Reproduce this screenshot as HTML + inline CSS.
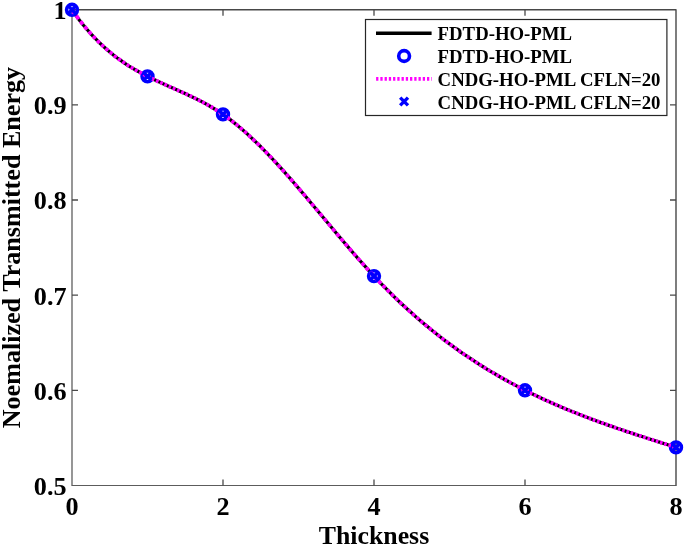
<!DOCTYPE html>
<html><head><meta charset="utf-8"><title>Normalized Transmitted Energy vs Thickness</title>
<style>
html,body{margin:0;padding:0;background:#fff;}
svg{display:block;font-family:"Liberation Serif",serif;font-weight:bold;fill:#000;}
</style></head><body>
<svg width="685" height="546" viewBox="0 0 685 546">
<rect width="685" height="546" fill="#fff"/>
<g font-size="26.2px"><text x="72.0" y="515" text-anchor="middle">0</text><text x="223.0" y="515" text-anchor="middle">2</text><text x="374.0" y="515" text-anchor="middle">4</text><text x="525.0" y="515" text-anchor="middle">6</text><text x="676.0" y="515" text-anchor="middle">8</text><text x="66.6" y="19.0" text-anchor="end">1</text><text x="66.6" y="114.2" text-anchor="end">0.9</text><text x="66.6" y="209.3" text-anchor="end">0.8</text><text x="66.6" y="304.5" text-anchor="end">0.7</text><text x="66.6" y="399.6" text-anchor="end">0.6</text><text x="66.6" y="495.0" text-anchor="end">0.5</text></g>
<text x="374" y="543.8" text-anchor="middle" font-size="25.8px">Thickness</text>
<text transform="translate(20.4,247.6) rotate(-90)" text-anchor="middle" font-size="26.1px">Noemalized Transmitted Energy</text>
<path d="M72.0 485.4V9.8" fill="none" stroke="#4a4a4a" stroke-width="1.15"/>
<path d="M71.5 485.4H676.6" fill="none" stroke="#5c5c5c" stroke-width="1.05"/>
<path d="M71.5 9.8H676.0V485.4" fill="none" stroke="#484848" stroke-width="1.4" stroke-linejoin="round"/>
<g stroke="#4a4a4a" stroke-width="1.3" fill="none"><path d="M223.0 485.4v-6M223.0 9.8v6"/><path d="M374.0 485.4v-6M374.0 9.8v6"/><path d="M525.0 485.4v-6M525.0 9.8v6"/><path d="M72.0 390.3h6M676.0 390.3h-6"/><path d="M72.0 295.2h6M676.0 295.2h-6"/><path d="M72.0 200.0h6M676.0 200.0h-6"/><path d="M72.0 104.9h6M676.0 104.9h-6"/></g>
<polyline points="72.0,9.8 75.8,15.1 79.5,20.2 83.3,25.0 87.1,29.5 90.9,33.8 94.7,37.9 98.4,41.7 102.2,45.3 106.0,48.8 109.8,52.0 113.5,55.1 117.3,58.0 121.1,60.7 124.9,63.3 128.6,65.8 132.4,68.1 136.2,70.3 139.9,72.4 143.7,74.4 147.5,76.4 151.3,78.3 155.1,80.1 158.8,81.8 162.6,83.5 166.4,85.2 170.2,86.9 173.9,88.6 177.7,90.2 181.5,91.9 185.2,93.6 189.0,95.4 192.8,97.2 196.6,99.0 200.4,100.9 204.1,102.9 207.9,105.0 211.7,107.2 215.5,109.5 219.2,111.9 223.0,114.4 226.8,117.1 230.6,119.9 234.3,122.9 238.1,126.0 241.9,129.2 245.7,132.5 249.4,135.9 253.2,139.5 257.0,143.1 260.8,146.8 264.5,150.7 268.3,154.6 272.1,158.5 275.9,162.6 279.6,166.7 283.4,170.9 287.2,175.1 291.0,179.4 294.7,183.8 298.5,188.2 302.3,192.6 306.1,197.0 309.8,201.5 313.6,206.0 317.4,210.5 321.2,215.0 324.9,219.5 328.7,224.0 332.5,228.5 336.2,233.0 340.0,237.5 343.8,242.0 347.6,246.4 351.4,250.8 355.1,255.1 358.9,259.5 362.7,263.7 366.5,267.9 370.2,272.1 374.0,276.1 377.8,280.1 381.6,284.1 385.3,287.9 389.1,291.7 392.9,295.5 396.6,299.1 400.4,302.7 404.2,306.3 408.0,309.7 411.8,313.1 415.5,316.5 419.3,319.8 423.1,323.0 426.9,326.1 430.6,329.3 434.4,332.3 438.2,335.3 442.0,338.2 445.7,341.1 449.5,343.9 453.3,346.7 457.1,349.4 460.8,352.1 464.6,354.7 468.4,357.2 472.2,359.7 475.9,362.2 479.7,364.6 483.5,367.0 487.2,369.3 491.0,371.6 494.8,373.8 498.6,376.0 502.4,378.2 506.1,380.3 509.9,382.4 513.7,384.4 517.5,386.4 521.2,388.4 525.0,390.3 528.8,392.2 532.6,394.0 536.3,395.8 540.1,397.6 543.9,399.4 547.7,401.1 551.4,402.8 555.2,404.4 559.0,406.1 562.8,407.7 566.5,409.2 570.3,410.8 574.1,412.3 577.9,413.8 581.6,415.3 585.4,416.8 589.2,418.2 593.0,419.6 596.7,421.0 600.5,422.4 604.3,423.7 608.1,425.1 611.8,426.4 615.6,427.7 619.4,429.0 623.2,430.3 626.9,431.6 630.7,432.8 634.5,434.1 638.2,435.3 642.0,436.5 645.8,437.8 649.6,439.0 653.4,440.2 657.1,441.4 660.9,442.6 664.7,443.8 668.5,445.0 672.2,446.2 676.0,447.4" fill="none" stroke="#000" stroke-width="3.3" stroke-linejoin="round"/>
<g fill="none" stroke="#0000ff" stroke-width="3.6"><circle cx="72.0" cy="9.8" r="5.4"/><circle cx="147.5" cy="76.4" r="5.4"/><circle cx="223.0" cy="114.4" r="5.4"/><circle cx="374.0" cy="276.1" r="5.4"/><circle cx="525.0" cy="390.3" r="5.4"/><circle cx="676.0" cy="447.4" r="5.4"/></g>
<path d="M72.0 9.8L74.5 13.4M76.2 15.7L78.7 19.1M80.4 21.3L82.9 24.4M84.6 26.5L87.1 29.5M88.8 31.5L91.3 34.3M93.0 36.1L95.5 38.7M97.2 40.5L99.7 43.0M101.4 44.6L103.9 46.9M105.6 48.4L108.1 50.6M109.8 52.1L112.3 54.1M114.0 55.4L116.5 57.4M118.2 58.6L120.7 60.4M122.4 61.6L124.9 63.3M126.6 64.5L129.1 66.1M130.8 67.1L133.3 68.6M135.0 69.6L137.5 71.1M139.2 72.0L141.7 73.4M143.4 74.3L145.9 75.6M147.6 76.4L150.1 77.7M151.8 78.5L154.3 79.7M156.0 80.5L158.5 81.7M160.2 82.4L162.7 83.6M164.4 84.3L166.9 85.5M168.6 86.2L171.1 87.3M172.8 88.1L175.3 89.2M177.0 89.9L179.5 91.0M181.2 91.8L183.7 92.9M185.4 93.7L187.9 94.8M189.6 95.6L192.1 96.8M193.8 97.6L196.3 98.9M198.0 99.7L200.5 101.0M202.2 101.9L204.7 103.2M206.4 104.2L208.9 105.6M210.6 106.5L213.1 108.0M214.8 109.1L217.3 110.6M219.0 111.7L221.5 113.4M223.2 114.6L225.7 116.3M227.4 117.6L229.9 119.4M231.6 120.8L234.1 122.7M235.8 124.1L238.3 126.1M240.0 127.6L242.5 129.7M244.2 131.2L246.7 133.4M248.4 135.0L250.9 137.3M252.6 138.9L255.1 141.3M256.8 142.9L259.3 145.4M261.0 147.1L263.5 149.6M265.2 151.3L267.7 153.9M269.4 155.7L271.9 158.3M273.6 160.2L276.1 162.9M277.8 164.7L280.3 167.5M282.0 169.3L284.5 172.1M286.2 174.0L288.7 176.9M290.4 178.8L292.9 181.7M294.6 183.6L297.1 186.5M298.8 188.5L301.3 191.4M303.0 193.4L305.5 196.4M307.2 198.4L309.7 201.3M311.4 203.4L313.9 206.3M315.6 208.4L318.1 211.3M319.8 213.4L322.3 216.4M324.0 218.4L326.5 221.4M328.2 223.4L330.7 226.4M332.4 228.4L334.9 231.4M336.6 233.5L339.1 236.4M340.8 238.4L343.3 241.4M345.0 243.4L347.5 246.3M349.2 248.3L351.7 251.2M353.4 253.2L355.9 256.0M357.6 258.0L360.1 260.8M361.8 262.7L364.3 265.5M366.0 267.4L368.5 270.2M370.2 272.0L372.7 274.7M374.4 276.6L376.9 279.2M378.6 281.0L381.1 283.6M382.8 285.4L385.3 287.9M387.0 289.6L389.5 292.1M391.2 293.8L393.7 296.3M395.4 297.9L397.9 300.3M399.6 302.0L402.1 304.3M403.8 305.9L406.3 308.2M408.0 309.8L410.5 312.0M412.2 313.5L414.7 315.8M416.4 317.3L418.9 319.4M420.6 320.9L423.1 323.0M424.8 324.4L427.3 326.5M429.0 327.9L431.5 330.0M433.2 331.3L435.7 333.3M437.4 334.7L439.9 336.6M441.6 337.9L444.1 339.9M445.8 341.1L448.3 343.0M450.0 344.3L452.5 346.1M454.2 347.3L456.7 349.1M458.4 350.3L460.9 352.1M462.6 353.3L465.1 355.0M466.8 356.2L469.3 357.8M471.0 359.0L473.5 360.6M475.2 361.7L477.7 363.4M479.4 364.4L481.9 366.0M483.6 367.1L486.1 368.6M487.8 369.7L490.3 371.2M492.0 372.2L494.5 373.7M496.2 374.7L498.7 376.1M500.4 377.1L502.9 378.5M504.6 379.5L507.1 380.8M508.8 381.8L511.3 383.1M513.0 384.0L515.5 385.4M517.2 386.3L519.7 387.6M521.4 388.4L523.9 389.7M525.6 390.6L528.1 391.8M529.8 392.7L532.3 393.9M534.0 394.7L536.5 395.9M538.2 396.7L540.7 397.9M542.4 398.7L544.9 399.8M546.6 400.6L549.1 401.7M550.8 402.5L553.3 403.6M555.0 404.3L557.5 405.4M559.2 406.2L561.7 407.2M563.4 407.9L565.9 409.0M567.6 409.7L570.1 410.7M571.8 411.4L574.3 412.4M576.0 413.1L578.5 414.1M580.2 414.7L582.7 415.7M584.4 416.4L586.9 417.3M588.6 418.0L591.1 418.9M592.8 419.6L595.3 420.5M597.0 421.1L599.5 422.0M601.2 422.6L603.7 423.5M605.4 424.1L607.9 425.0M609.6 425.6L612.1 426.5M613.8 427.1L616.3 428.0M618.0 428.5L620.5 429.4M622.2 430.0L624.7 430.8M626.4 431.4L628.9 432.2M630.6 432.8L633.1 433.6M634.8 434.2L637.3 435.0M639.0 435.6L641.5 436.4M643.2 436.9L645.7 437.7M647.4 438.3L649.9 439.1M651.6 439.6L654.1 440.4M655.8 441.0L658.3 441.8M660.0 442.3L662.5 443.1M664.2 443.6L666.7 444.4M668.4 445.0L670.9 445.7M672.6 446.3L675.1 447.1" fill="none" stroke="#ff00ff" stroke-width="3.8"/>
<g fill="none" stroke="#0000ff" stroke-width="3.4"><path d="M68.1 5.9l7.8 7.8m0 -7.8l-7.8 7.8"/><path d="M143.6 72.5l7.8 7.8m0 -7.8l-7.8 7.8"/><path d="M219.1 110.5l7.8 7.8m0 -7.8l-7.8 7.8"/><path d="M370.1 272.2l7.8 7.8m0 -7.8l-7.8 7.8"/><path d="M521.1 386.4l7.8 7.8m0 -7.8l-7.8 7.8"/><path d="M672.1 443.5l7.8 7.8m0 -7.8l-7.8 7.8"/></g>
<rect x="365.5" y="19.5" width="301.4" height="96" fill="#fff" stroke="#262626" stroke-width="1.2"/>
<path d="M376 33.2H431.6" stroke="#000" stroke-width="3.6" fill="none"/>
<circle cx="404.1" cy="56" r="5.4" fill="none" stroke="#0000ff" stroke-width="3.6"/>
<path d="M376.1 78.8H431.8" stroke="#ff00ff" stroke-width="3.8" stroke-dasharray="2.3 1.94" fill="none"/>
<path d="M400.20000000000005 97.6l7.8 7.8m0 -7.8l-7.8 7.8" stroke="#0000ff" stroke-width="3.4" fill="none"/>
<g font-size="18.78px">
<text x="437.6" y="40.4">FDTD-HO-PML</text>
<text x="437.6" y="62.8">FDTD-HO-PML</text>
<text x="437.6" y="86.1">CNDG-HO-PML CFLN=20</text>
<text x="437.6" y="109.1">CNDG-HO-PML CFLN=20</text>
</g>
</svg>
</body></html>
